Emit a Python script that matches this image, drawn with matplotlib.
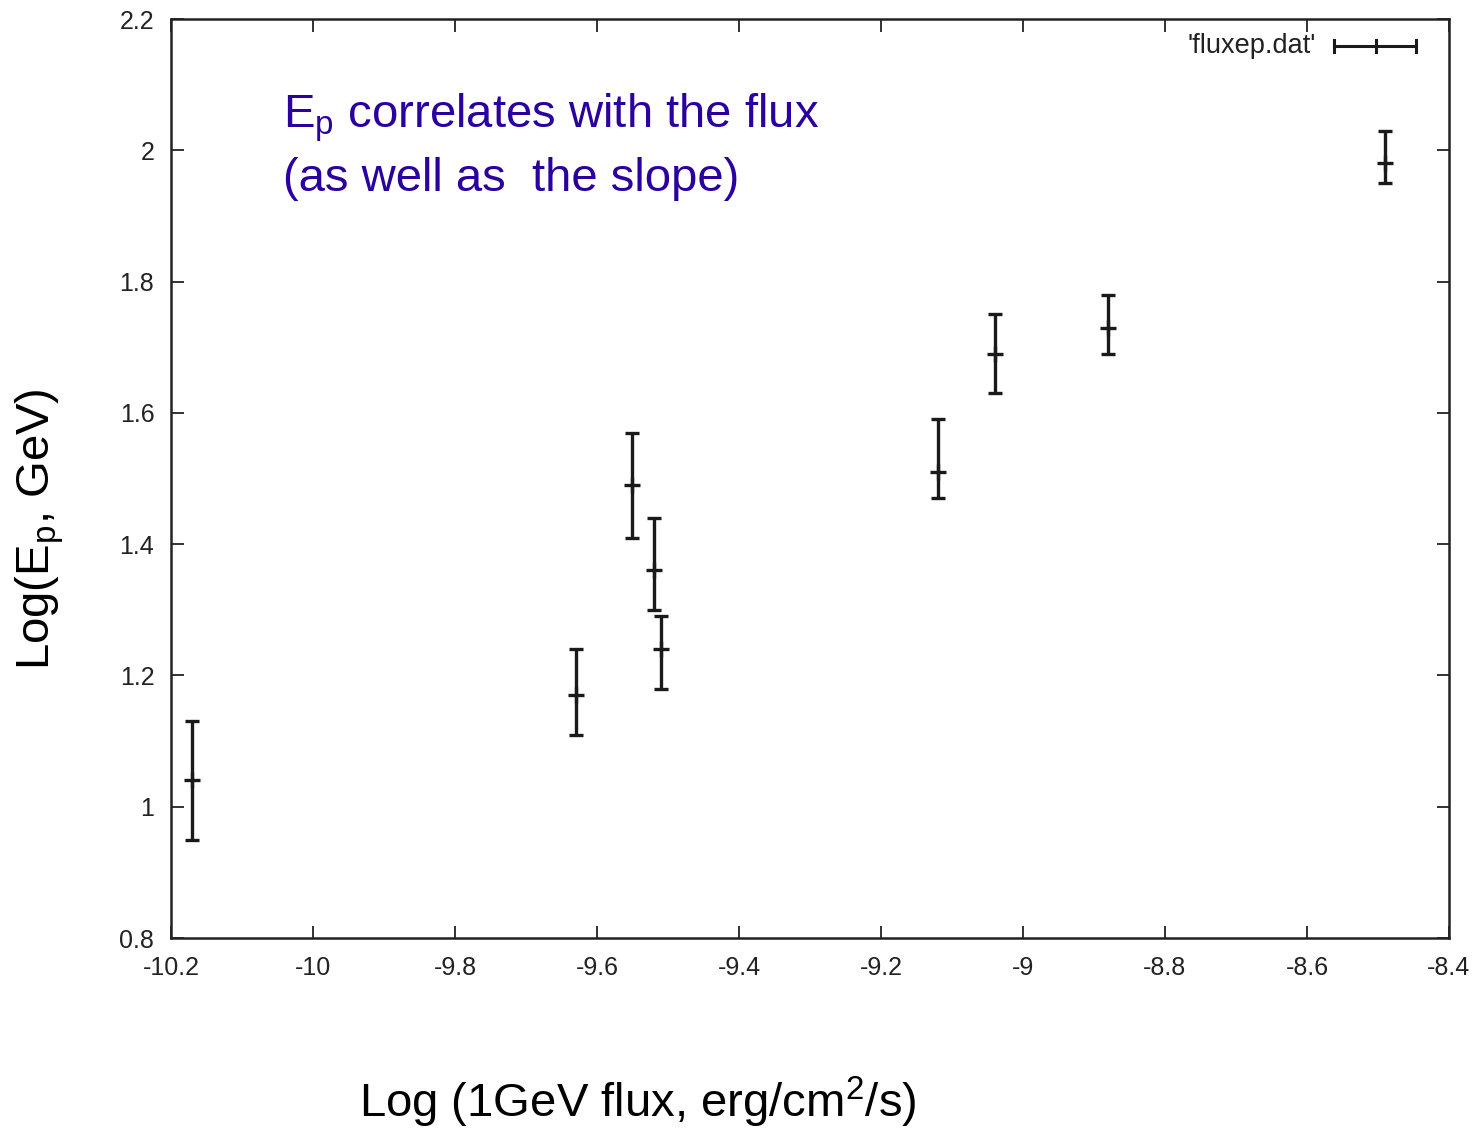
import numpy as np
import matplotlib
matplotlib.use('Agg')
import matplotlib.pyplot as plt
from matplotlib.lines import Line2D

plt.rcParams['font.family'] = ['Liberation Sans', 'DejaVu Sans']
plt.rcParams['mathtext.default'] = 'regular'

# log flux vs log Ep with asymmetric error bars
log_flux = [-10.17, -9.63, -9.55, -9.52, -9.51, -9.12, -9.04, -8.88, -8.49]
log_ep = [1.04, 1.17, 1.49, 1.36, 1.24, 1.51, 1.69, 1.73, 1.98]
ep_low = [0.95, 1.11, 1.41, 1.30, 1.18, 1.47, 1.63, 1.69, 1.95]
ep_high = [1.13, 1.24, 1.57, 1.44, 1.29, 1.59, 1.75, 1.78, 2.03]

xticks = np.arange(-10.2, -8.39, 0.2)
yticks = np.arange(0.8, 2.21, 0.2)

W, H = 1477, 1131
fig = plt.figure(figsize=(W / 100, H / 100), dpi=100)
ax = fig.add_axes([171 / W, 1 - 938 / H, (1449 - 171) / W, (938 - 19) / H])

y = np.array(log_ep)
yerr = [y - np.array(ep_low), np.array(ep_high) - y]
ax.errorbar(log_flux, log_ep, yerr=yerr, fmt='+', color='#1a1a1a', ms=11, mew=2.4,
            elinewidth=2.4, capsize=5, capthick=2.4)

ax.set_xlim(-10.2, -8.4)
ax.set_ylim(0.8, 2.2)
ax.set_xticks(xticks)
ax.set_yticks(yticks)
ax.set_xticklabels(['%g' % round(v, 1) for v in xticks])
ax.set_yticklabels(['%g' % round(v, 1) for v in yticks])
ax.tick_params(direction='in', length=9, width=1.3, top=True, right=True,
               labelsize=18, colors='#222222')
ax.tick_params(axis='x', pad=13)
ax.tick_params(axis='y', pad=12)
for s in ax.spines.values():
    s.set_linewidth(1.8)
    s.set_color('#222222')

# gnuplot-style key
ky = 1 - 46 / H
fig.text(1316 / W, ky, "'fluxep.dat'", ha='right', va='center', fontsize=19.5,
         color='#222222')
kx0, kx1 = 1334 / W, 1416 / W
fig.add_artist(Line2D([kx0, kx1], [ky, ky], color='#1a1a1a', lw=2.2,
                      transform=fig.transFigure))
for kx in (kx0, kx1):
    fig.add_artist(Line2D([kx, kx], [ky - 6 / H, ky + 6 / H], color='#1a1a1a', lw=2.2,
                          transform=fig.transFigure))
fig.add_artist(Line2D([1376 / W, 1376 / W], [ky - 6 / H, ky + 6 / H], color='#1a1a1a',
                      lw=2.2, transform=fig.transFigure))

blue = '#2a00a0'
fig.text(283 / W, 1 - 127 / H, r'E$_{p}$ correlates with the flux', fontsize=34,
         color=blue, ha='left', va='baseline')
fig.text(283 / W, 1 - 191 / H, '(as well as  the slope)', fontsize=34,
         color=blue, ha='left', va='baseline')

fig.text(40 / W, 1 - 529 / H, r'Log(E$_{p}$, GeV)', fontsize=34, rotation=90,
         ha='center', va='center')
fig.text(638 / W, 1 - 1102 / H, r'Log (1GeV flux, erg/cm$^{2}$/s)', fontsize=34,
         ha='center', va='center')

fig.savefig('out.png', dpi=100)
